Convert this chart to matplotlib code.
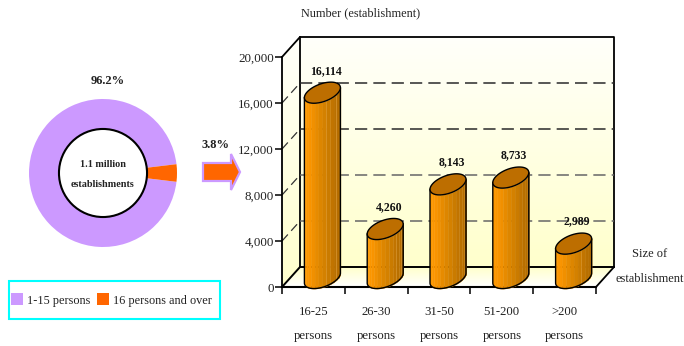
import numpy as np
import matplotlib
matplotlib.use('Agg')
import matplotlib.pyplot as plt
from matplotlib.colors import LinearSegmentedColormap
from matplotlib.patches import Polygon, Rectangle, Circle

plt.rcParams['font.family'] = ['Liberation Serif', 'DejaVu Serif']

# Data
share_labels = ['1-15 persons', '16 persons and over']
shares = [96.2, 3.8]
share_colors = ['#CC99FF', '#FF6600']
size_groups = ['16-25', '26-30', '31-50', '51-200', '>200']
establishments = [16114, 4260, 8143, 8733, 2989]
value_ticks = [0, 4000, 8000, 12000, 16000, 20000]
grid_values = [4000, 8000, 12000, 16000]
grid_colors = ['#666666', '#666666', '#2A2A2A', '#2A2A2A']

W, H = 684, 346
fig = plt.figure(figsize=(W / 100, H / 100), dpi=100)

# Pixel layer for the walls, the arrow, the legend and loose text
ov = fig.add_axes([0, 0, 1, 1], zorder=0)
ov.axis('off')


def wall(points, top, bottom):
    # Vertical gradient clipped to a wall polygon
    cmap = LinearSegmentedColormap.from_list('wall', [top, bottom])
    xs = [p[0] for p in points]
    ys = [p[1] for p in points]
    im = ov.imshow(np.linspace(0, 1, 64).reshape(-1, 1), cmap=cmap, aspect='auto',
                   extent=(min(xs), max(xs), max(ys), min(ys)), zorder=1)
    im.set_clip_path(Polygon(points, transform=ov.transData))


wall([(300, 37), (614, 37), (614, 267), (300, 267)], '#FFFFFA', '#FFFFCC')
wall([(282, 57), (300, 37), (300, 267), (282, 287)], '#FFFFFA', '#FFFFCC')
wall([(282, 287), (300, 267), (614, 267), (596, 287)], '#FFFFCC', '#FFFFFF')
ov.set_xlim(0, W)
ov.set_ylim(H, 0)

# Frame of the box
ov.plot([282, 300, 614, 614, 596], [57, 37, 37, 267, 287], color='black', lw=1.3, zorder=2)
ov.plot([300, 300], [37, 267], color='black', lw=1.3, zorder=2)
ov.plot([282, 300, 614], [287, 267, 267], color='black', lw=1.4, zorder=2)

# Arrow from the donut to the bars
ov.add_patch(Polygon([(203, 163), (231, 163), (231, 154), (240, 172), (231, 190), (231, 181), (203, 181)],
                     facecolor='#FF6600', edgecolor='#CC99FF', lw=1.6, zorder=3))

# Legend
ov.add_patch(Rectangle((8.5, 281), 211, 38, fill=False, edgecolor='#00FFFF', lw=1.5, zorder=3))
ov.add_patch(Rectangle((11, 293), 12, 12, color=share_colors[0], lw=0, zorder=3))
ov.add_patch(Rectangle((97, 293), 12, 12, color=share_colors[1], lw=0, zorder=3))
ov.text(27, 301, share_labels[0], fontsize=8.8, va='center', color='#222222', zorder=4)
ov.text(113, 301, share_labels[1], fontsize=8.8, va='center', color='#222222', zorder=4)

# Loose text
ov.text(108, 81, '96.2%', fontsize=9, fontweight='bold', ha='center', va='center', color='#222222')
ov.text(216, 145, '3.8%', fontsize=9, fontweight='bold', ha='center', va='center', color='#222222')
ov.text(301, 13, 'Number (establishment)', fontsize=8.8, va='center', color='#222222')
ov.text(650, 254, 'Size of', fontsize=9, ha='center', va='center', color='#222222')
ov.text(616, 279, 'establishment', fontsize=8.9, va='center', color='#222222')

# Donut
don = fig.add_axes([29 / W, (H - 247) / H, 148 / W, 148 / H], zorder=1)
don.pie(shares, colors=share_colors, startangle=shares[1] / 100 * 180, radius=1,
        wedgeprops={'linewidth': 0})
don.set_xlim(-1, 1)
don.set_ylim(-1, 1)
don.add_patch(Circle((0, 0), 0.595, facecolor='white', edgecolor='black', lw=1.5, zorder=5))
don.text(0, 0.12, '1.1 million', fontsize=7.3, fontweight='bold', ha='center', va='center',
         color='#222222', zorder=6)
don.text(0, -0.15, 'establishments', fontsize=7.3, fontweight='bold', ha='center', va='center',
         color='#222222', zorder=6)

# Bar chart, axes sit on the front plane of the box
ax = fig.add_axes([282 / W, (H - 287) / H, 314 / W, 230 / H], zorder=2)
ax.patch.set_alpha(0)
ax.set_xlim(-0.5, 4.5)
ax.set_ylim(0, 20000)
px_x = 5 / 314
px_y = 20000 / 230
depth_x, depth_y = 18 * px_x, 20 * px_y

ax.spines['top'].set_visible(False)
ax.spines['right'].set_visible(False)
ax.spines['left'].set_linewidth(1.3)
ax.spines['bottom'].set_linewidth(1.5)
ax.set_yticks(value_ticks, [f'{v:,}' for v in value_ticks], fontsize=9.4, color='#222222')
ax.tick_params(axis='y', length=5, width=1.1, pad=1)
ax.set_xticks(range(len(size_groups)), [f'{g}\npersons' for g in size_groups],
              fontsize=9.2, color='#222222', linespacing=2.25)
ax.tick_params(axis='x', length=0, pad=14)
ax.set_xticks(np.arange(-0.5, 5), minor=True)
ax.tick_params(axis='x', which='minor', length=5, width=1.1)

# Dashed grid on the back wall and the side wall
for v, c in zip(grid_values, grid_colors):
    ax.plot([-0.5 + depth_x, 4.5 + depth_x], [v + depth_y, v + depth_y], color=c, lw=1.1,
            dashes=(8, 4), clip_on=False, zorder=1)
    ax.plot([-0.5, -0.5 + depth_x], [v, v + depth_y], color='#333333', lw=0.9,
            dashes=(7, 4), clip_on=False, zorder=1)

# Cylinders, half the box depth behind the front plane
half_w, tilt, minor = 18, 5, 9.3
shade = LinearSegmentedColormap.from_list('shade', ['#FF9A00', '#F89400', '#D88400', '#BA7000', '#B06A00'])
n_strips = 14
for i, v in enumerate(establishments):
    cx = i + 9 * px_x
    base = 9 * px_y
    top = v + base
    for s in range(n_strips):
        t = np.linspace(np.pi + np.pi * s / n_strips, np.pi + np.pi * (s + 1) / n_strips, 6)
        xs = cx + half_w * np.cos(t) * px_x
        off = (tilt * np.cos(t) + minor * np.sin(t)) * px_y
        col = shade(s / (n_strips - 1))
        ax.fill_between(xs, base + off, top + off, color=col, lw=0.3, clip_on=False, zorder=3)
        if n_strips // 2 <= s < n_strips - 1:
            ax.plot([xs[-1], xs[-1]], [base + off[-1], top + off[-1]], color='#E8A848', lw=0.5,
                    clip_on=False, zorder=3)
    t = np.linspace(np.pi, 2 * np.pi, 60)
    low = (tilt * np.cos(t) + minor * np.sin(t)) * px_y
    edge_x = cx + half_w * np.cos(t) * px_x
    ax.plot(np.r_[edge_x[0], edge_x, edge_x[-1]], np.r_[top + low[0], base + low, top + low[-1]],
            color='black', lw=1, clip_on=False, zorder=4)
    t = np.linspace(0, 2 * np.pi, 90)
    ax.fill(cx + half_w * np.cos(t) * px_x, top + (tilt * np.cos(t) + minor * np.sin(t)) * px_y,
            facecolor='#BD6E00', edgecolor='black', lw=1, clip_on=False, zorder=5)
    ax.text(cx + 3.5 * px_x, top + 22 * px_y, f'{v:,}', fontsize=8.5, fontweight='bold',
            ha='center', va='center', color='#111111', zorder=6)

fig.savefig('out.png', dpi=100)
